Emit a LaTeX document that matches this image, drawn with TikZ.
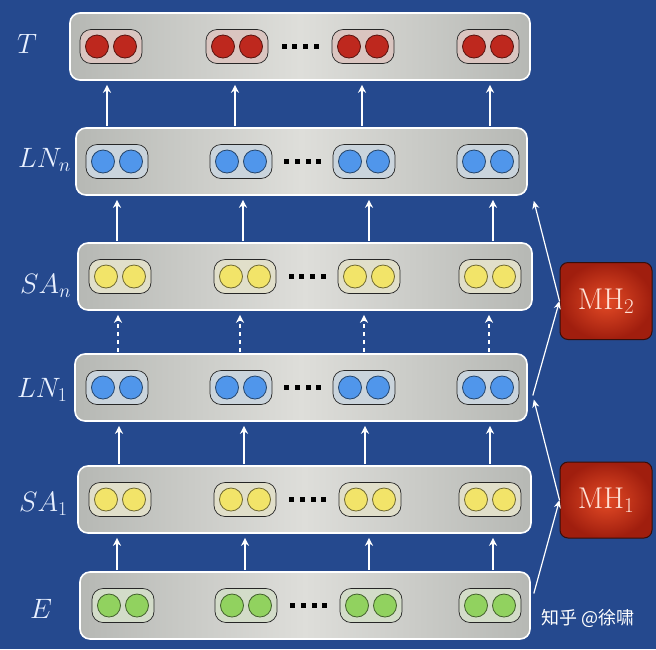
\RequirePackage{fix-cm}
\documentclass[tikz,border=0pt]{standalone}
\usepackage{fontspec}
\newfontfamily\cjk{Noto Sans CJK SC}
\usetikzlibrary{arrows.meta,calc}
\definecolor{bg}{RGB}{37,73,142}
\definecolor{barside}{RGB}{182,184,180}
\definecolor{barmid}{RGB}{222,222,218}
\definecolor{cred}{RGB}{190,40,30}
\definecolor{cblue}{RGB}{80,150,235}
\definecolor{cyellow}{RGB}{242,228,105}
\definecolor{cgreen}{RGB}{145,210,95}
\definecolor{lbl}{RGB}{232,240,255}
\definecolor{mhin}{RGB}{228,75,38}
\definecolor{mhout}{RGB}{160,30,14}
\definecolor{mhedge}{RGB}{55,14,10}
\definecolor{mhtext}{RGB}{255,226,215}
\tikzset{
  bar/.style={draw=white, line width=1.6pt, rounded corners=10pt, minimum height=67pt, inner sep=0pt,
    left color=barside, right color=barside, middle color=barmid},
  pill/.style={draw=black!85, line width=0.7pt, rounded corners=11pt, minimum width=62pt, minimum height=34pt, inner sep=0pt, fill=#1!14!barmid},
  ball/.style={circle, minimum size=23pt, inner sep=0pt, fill=#1, draw=#1!45!black, line width=0.8pt},
  sq/.style={rectangle, fill=black, minimum size=5pt, inner sep=0pt},
  arr/.style={white, line width=1.4pt, -{Stealth[length=8pt,width=8pt,inset=2.5pt]}, shorten >=4pt, shorten <=1pt},
  darr/.style={arr, dash pattern=on 4pt off 4pt},
  sarr/.style={white, line width=1.2pt, -{Stealth[length=8pt,width=7pt,inset=2.5pt]}},
  lbl/.style={text=lbl, font=\fontsize{28}{32}\selectfont, inner sep=0pt, anchor=base west},
  mh/.style={draw=mhedge, line width=1pt, rounded corners=8pt, minimum width=92pt, minimum height=77pt,
    inner color=mhin, outer color=mhout, text=mhtext, font=\fontsize{30}{34}\selectfont}
}
\newcommand\mkrow[6]{%
  \node[bar, minimum width=#6pt] (#1) at (#2,#3) {};
  \foreach \px [count=\i] in {#5} {
    \node[pill=#4] (#1-p\i) at (\px,#3) {};
    \node[ball=#4] (#1-p\i-a) at ([xshift=-14pt]#1-p\i.center) {};
    \node[ball=#4] (#1-p\i-b) at ([xshift=14pt]#1-p\i.center) {};
  }
  \coordinate (#1-m) at ($(#1-p2)!0.5!(#1-p3)$);
  \foreach \dx [count=\j] in {-16,-5.5,5.5,16}
    \node[sq] (#1-d\j) at ([xshift=\dx pt]#1-m) {};
}
\newcommand\ups[4]{%
  \foreach \ax [count=\i] in {#3} {
    \coordinate (#1-k\i) at (\ax,0);
    \draw[#4] (#1.north -| #1-k\i) -- (#2.south -| #1-k\i);
  }%
}
\begin{document}
\begin{tikzpicture}[x=1pt,y=-1pt]
\useasboundingbox (0,0) rectangle (656,649);
\fill[bg] (0,0) rectangle (656,649);
\mkrow{T}{300}{46.5}{cred}{111,237,363,488}{460}
\mkrow{LNn}{301.5}{161.5}{cblue}{117,241,364,488}{451}
\mkrow{SAn}{305}{276.5}{cyellow}{120,245,369,490}{454}
\mkrow{LN1}{301}{387.5}{cblue}{117,241,364,488}{452}
\mkrow{SA1}{304.5}{499.5}{cyellow}{120,245,370,490}{453}
\mkrow{E}{305}{605.5}{cgreen}{123,246,371,490}{450}
\ups{LNn}{T}{107,235,362,490}{arr}
\ups{SAn}{LNn}{117,243,369,493}{arr}
\ups{LN1}{SAn}{118,240,364,489}{darr}
\ups{SA1}{LN1}{119,244,365,490}{arr}
\ups{E}{SA1}{117,245,369,493}{arr}
\node[lbl] (lT) at (17,53) {$T$};
\node[lbl] (lLNn) at (18,167) {$LN_n$};
\node[lbl] (lSAn) at (20,293) {$SA_n$};
\node[lbl] (lLN1) at (17,397) {$LN_1$};
\node[lbl] (lSA1) at (19,511) {$SA_1$};
\node[lbl] (lE) at (30,618) {$E$};
\node[mh] (MH2) at (606,301) {MH$_2$};
\node[mh, minimum height=76pt] (MH1) at (606,500) {MH$_1$};
\draw[sarr] ([shift={(3,-12)}]E.east) -- (MH1.west);
\draw[sarr] (MH1.west) -- ([shift={(6,12)}]LN1.east);
\draw[sarr] ([shift={(5,8)}]LN1.east) -- (MH2.west);
\draw[sarr] (MH2.west) -- ([shift={(6,5)}]LNn.south east);
\node[text=white, font=\cjk\fontsize{18}{20}\selectfont, inner sep=0pt] (wm) at (588,618) {知乎 @徐啸};
\end{tikzpicture}
\end{document}
